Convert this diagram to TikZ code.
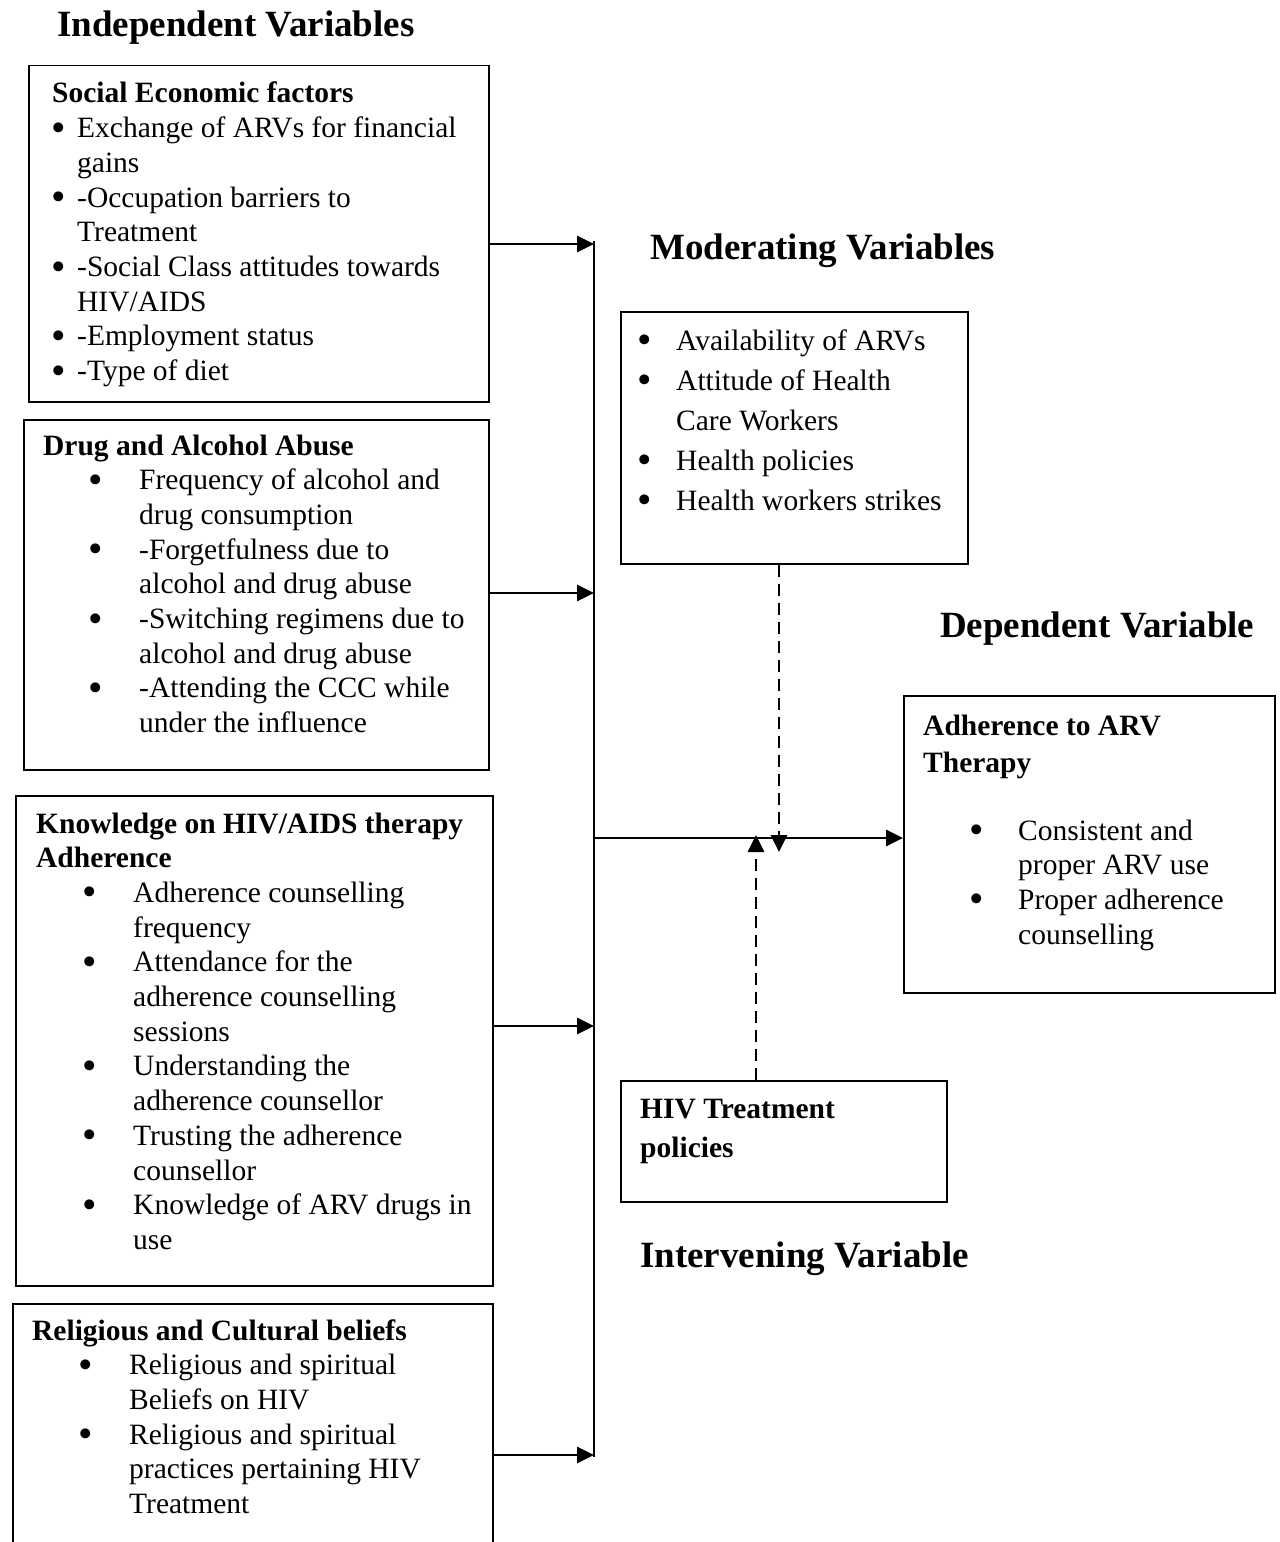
\documentclass[tikz,border=0pt]{standalone}
\usepackage{graphicx}
\usepackage{fontspec}
\setmainfont{Liberation Serif}
\usetikzlibrary{arrows.meta}

\newcommand\bodyfont{\fontsize{29.5bp}{34.7bp}\selectfont}
\newcommand\modfont{\fontsize{29.5bp}{40bp}\selectfont}
\newcommand\headfont{\fontsize{37bp}{44bp}\selectfont\bfseries}
\newcommand\bigdot{\raisebox{-3.5bp}{\scalebox{1.4}{\textbullet}}}
\newcommand\bl[2]{\makebox[#2][l]{\hspace*{#1}\makebox[0pt]{\bigdot}}}
\newcommand\ct[1]{\hspace*{#1}}

\begin{document}
\begin{tikzpicture}[x=1bp,y=-1bp,
    box/.style={draw, line width=1.5bp, inner sep=0, anchor=north west},
    txt/.style={inner sep=0, anchor=base west, font=\bodyfont},
    head/.style={inner sep=0, anchor=base west, font=\headfont}]
            \useasboundingbox (0,0) rectangle (1279,1542);

            \node[head] (indep) at (57,37) {Independent Variables};
            \node[head] (moder) at (650,259) {Moderating Variables};
            \node[head] (depen) at (940,637) {Dependent Variable};
            \node[head] (inter) at (640,1267) {Intervening Variable};

            \begin{scope}[every node/.style={box}]
                \node[minimum width=460bp, minimum height=336bp] (se) at (28,65) {};
                \node[minimum width=465bp, minimum height=350bp] (dab) at (23,419) {};
                \node[minimum width=477bp, minimum height=490bp] (khat) at (15,795) {};
                \node[minimum width=480bp, minimum height=260bp] (rcb) at (12,1303) {};
                \node[minimum width=347bp, minimum height=252bp] (mod) at (620,311) {};
                \node[minimum width=371bp, minimum height=297bp] (dep) at (903,695) {};
                \node[minimum width=326bp, minimum height=121bp] (hiv) at (620,1080) {};
            \end{scope}

            \node[txt] (se-txt) at (52,103) {\begin{tabular}[t]{@{}l@{}}
                \textbf{Social Economic factors}\\
                \bl{7bp}{25bp}Exchange of ARVs for financial\\
                \ct{25bp}gains\\
                \bl{7bp}{25bp}-Occupation barriers to\\
                \ct{25bp}Treatment\\
                \bl{7bp}{25bp}-Social Class attitudes towards\\
                \ct{25bp}HIV/AIDS\\
                \bl{7bp}{25bp}-Employment status\\
                \bl{7bp}{25bp}-Type of diet
            \end{tabular}};

            \node[txt] (dab-txt) at (43,455) {\begin{tabular}[t]{@{}l@{}}
                \textbf{Drug and Alcohol Abuse}\\
                \bl{53bp}{96bp}Frequency of alcohol and\\
                \ct{96bp}drug consumption\\
                \bl{53bp}{96bp}-Forgetfulness due to\\
                \ct{96bp}alcohol and drug abuse\\
                \bl{53bp}{96bp}-Switching regimens due to\\
                \ct{96bp}alcohol and drug abuse\\
                \bl{53bp}{96bp}-Attending the CCC while\\
                \ct{96bp}under the influence
            \end{tabular}};

            \node[txt] (khat-txt) at (36,833) {\begin{tabular}[t]{@{}l@{}}
                \textbf{Knowledge on HIV/AIDS therapy}\\
                \textbf{Adherence}\\
                \bl{54bp}{97bp}Adherence counselling\\
                \ct{97bp}frequency\\
                \bl{54bp}{97bp}Attendance for the\\
                \ct{97bp}adherence counselling\\
                \ct{97bp}sessions\\
                \bl{54bp}{97bp}Understanding the\\
                \ct{97bp}adherence counsellor\\
                \bl{54bp}{97bp}Trusting the adherence\\
                \ct{97bp}counsellor\\
                \bl{54bp}{97bp}Knowledge of ARV drugs in\\
                \ct{97bp}use
            \end{tabular}};

            \node[txt] (rcb-txt) at (32,1340) {\begin{tabular}[t]{@{}l@{}}
                \textbf{Religious and Cultural beliefs}\\
                \bl{54bp}{97bp}Religious and spiritual\\
                \ct{97bp}Beliefs on HIV\\
                \bl{54bp}{97bp}Religious and spiritual\\
                \ct{97bp}practices pertaining HIV\\
                \ct{97bp}Treatment
            \end{tabular}};

            \node[txt, font=\modfont] (mod-txt) at (640,350) {\begin{tabular}[t]{@{}l@{}}
                \bl{5bp}{36bp}Availability of ARVs\\
                \bl{5bp}{36bp}Attitude of Health\\
                \ct{36bp}Care Workers\\
                \bl{5bp}{36bp}Health policies\\
                \bl{5bp}{36bp}Health workers strikes
            \end{tabular}};

            \node[txt] (dep-txt) at (923,735) {\begin{tabular}[t]{@{}l@{}}
                \textbf{Adherence to ARV}\\[2.3bp]
                \textbf{Therapy}\\[33.3bp]
                \bl{54bp}{95bp}Consistent and\\
                \ct{95bp}proper ARV use\\
                \bl{54bp}{95bp}Proper adherence\\
                \ct{95bp}counselling
            \end{tabular}};

            \node[txt] (hiv-txt) at (640,1118) {\begin{tabular}[t]{@{}l@{}}
                \textbf{HIV Treatment}\\[4.3bp]
                \textbf{policies}
            \end{tabular}};

            % joints on the vertical line
            \coordinate (j1) at (594,244);
            \coordinate (j2) at (594,593);
            \coordinate (j3) at (594,1026);
            \coordinate (j4) at (594,1455);
            \coordinate (jm) at (594,838);
            \coordinate (mtip) at (779,852);
            \coordinate (htip) at (756,835);

            \begin{scope}[every edge/.style={draw, line width=2.8bp}]
                \path [-{Triangle[length=17bp,width=16bp]}] (se.east |- j1) edge (j1);
                \path [-{Triangle[length=17bp,width=16bp]}] (dab.east |- j2) edge (j2);
                \path [-{Triangle[length=17bp,width=16bp]}] (khat.east |- j3) edge (j3);
                \path [-{Triangle[length=17bp,width=16bp]}] (rcb.east |- j4) edge (j4);
                \path [-] ([yshift=3bp]j1) edge ([yshift=-2bp]j4);
                \path [-{Triangle[length=17bp,width=16bp]}] (jm) edge (dep.west |- jm);

                \path [dash pattern=on 12bp off 7bp, -{Triangle[length=17bp,width=16bp]}] (mod.south -| mtip) edge (mtip);
                \path [dash pattern=on 12bp off 7bp, -{Triangle[length=17bp,width=16bp]}] (hiv.north -| htip) edge (htip);
            \end{scope}
        \end{tikzpicture}
\end{document}
